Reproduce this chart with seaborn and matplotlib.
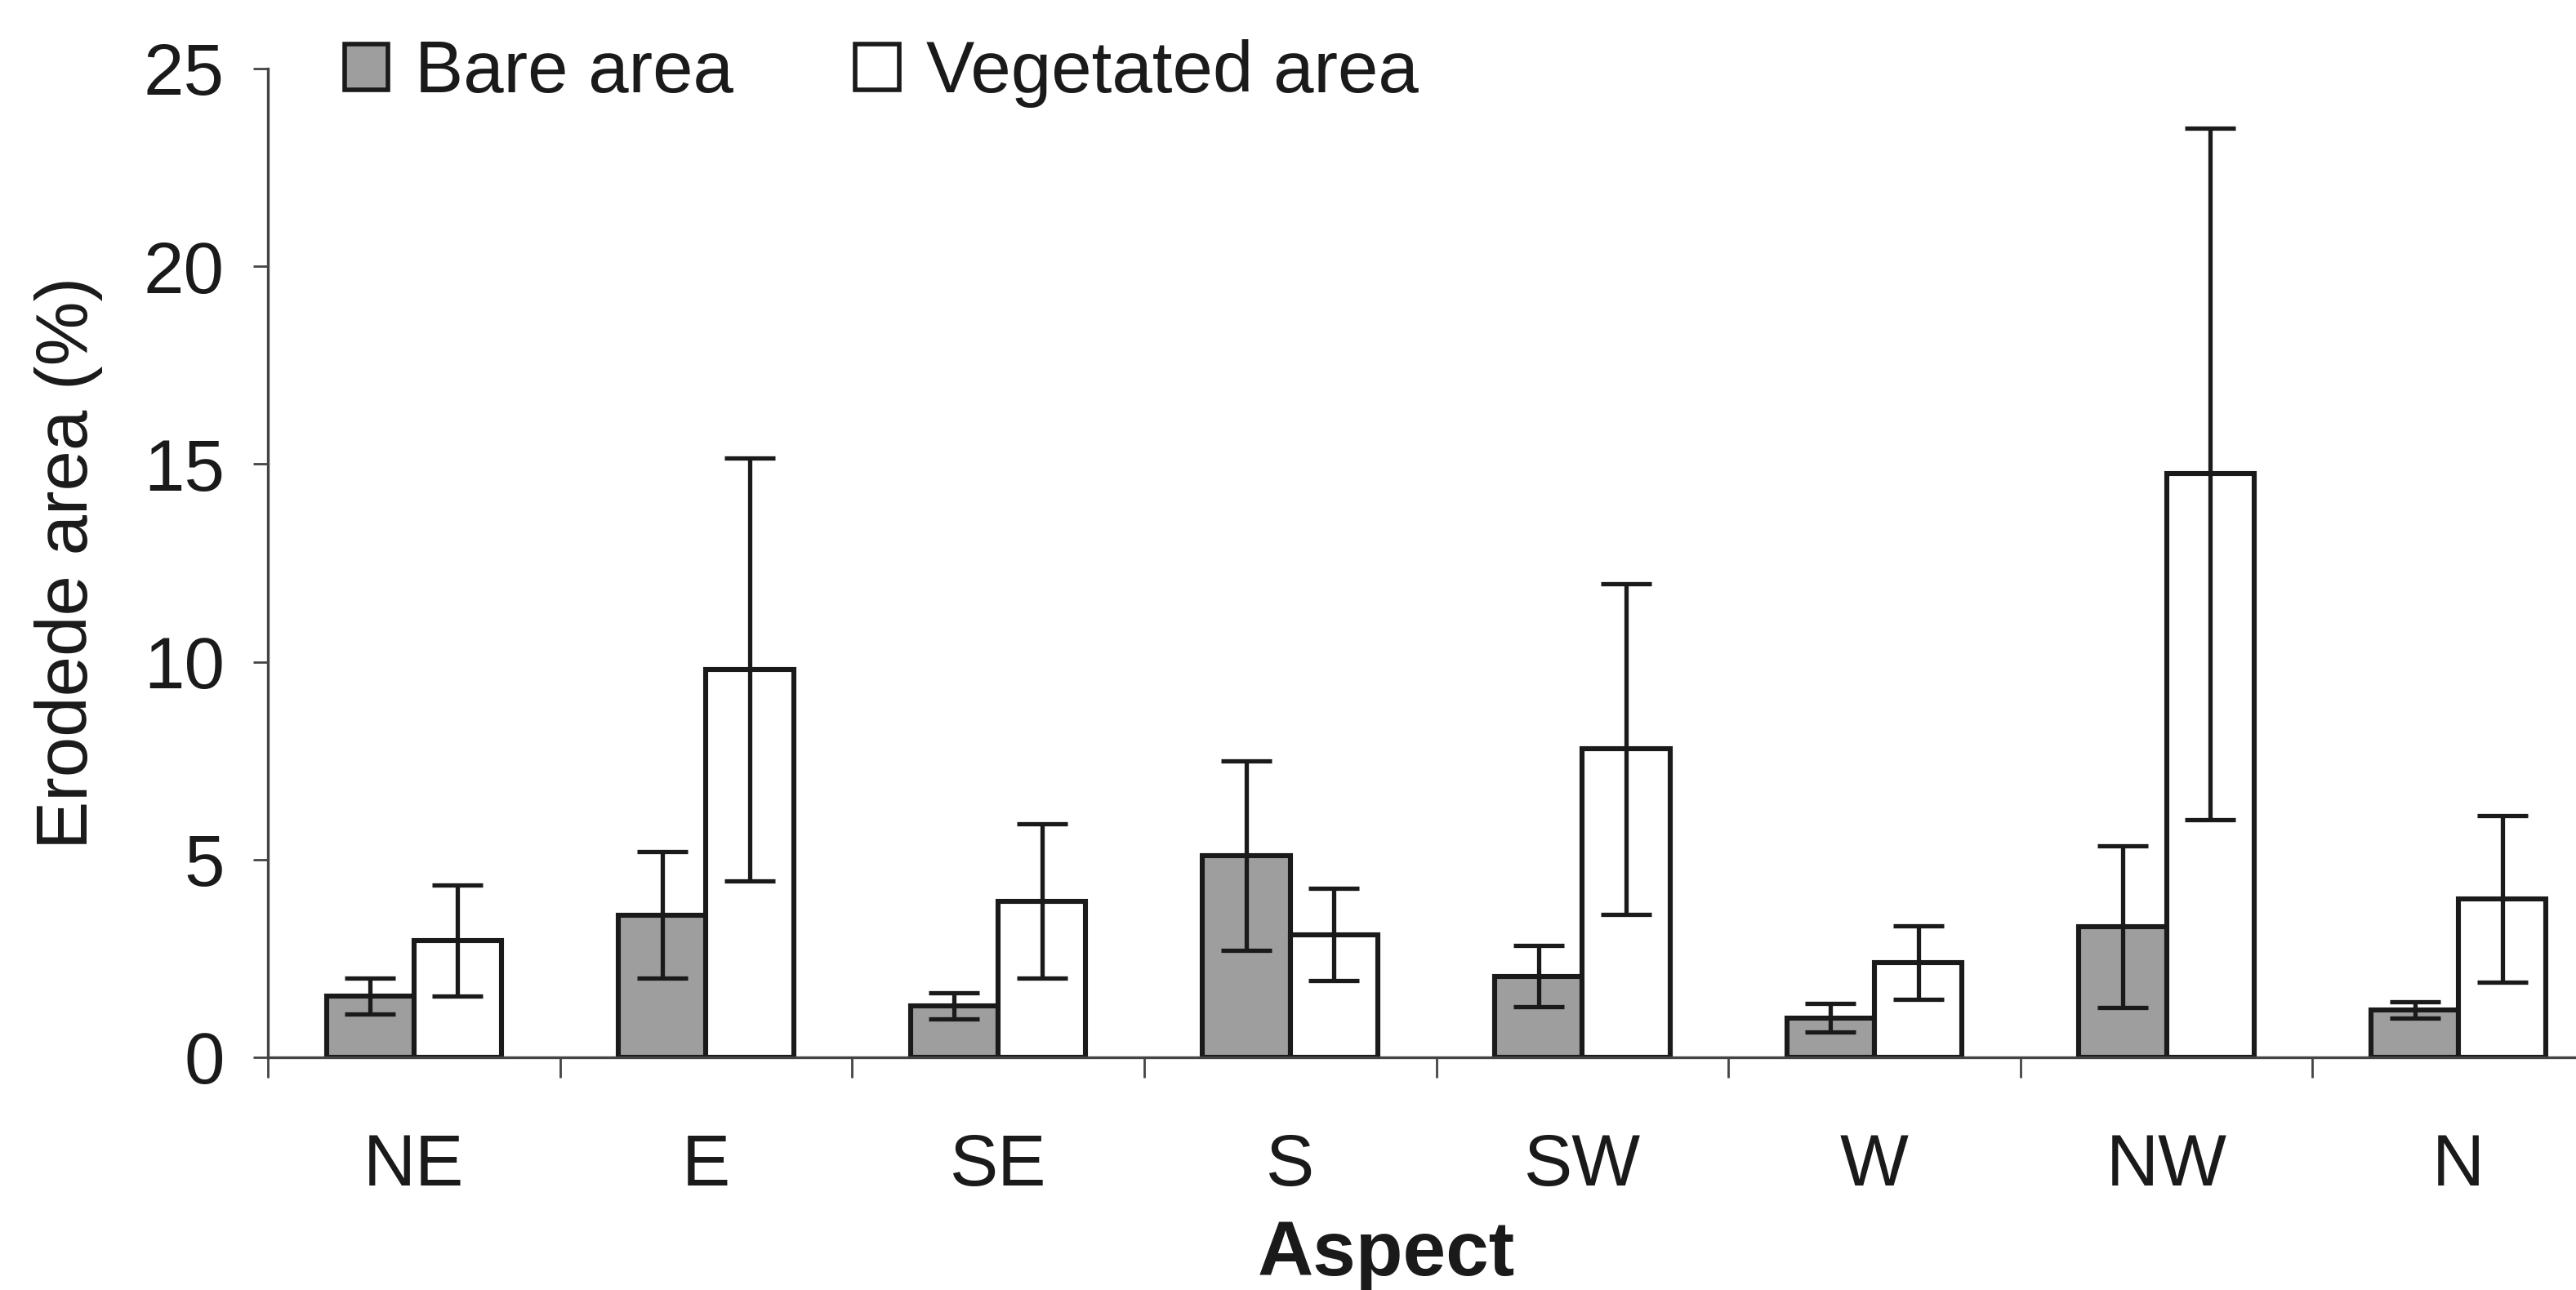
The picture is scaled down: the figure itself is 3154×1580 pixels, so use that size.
import numpy as np
import pandas as pd
import matplotlib
matplotlib.use("Agg")
import matplotlib.pyplot as plt
from matplotlib.patches import Patch
import seaborn as sns

# Eroded area by slope aspect, mean and error for bare and vegetated ground
aspects = ["NE", "E", "SE", "S", "SW", "W", "NW", "N"]
series_names = ["Bare area", "Vegetated area"]
bare_mean = [1.55, 3.6, 1.3, 5.1, 2.05, 1.0, 3.3, 1.2]
bare_err = [0.45, 1.6, 0.33, 2.4, 0.77, 0.36, 2.05, 0.2]
veg_mean = [2.95, 9.8, 3.95, 3.1, 7.8, 2.4, 14.75, 4.0]
veg_err = [1.4, 5.35, 1.95, 1.17, 4.18, 0.93, 8.74, 2.1]
y_ticks = [0, 5, 10, 15, 20, 25]

sns.set_theme(style="ticks")
plt.rcParams["font.family"] = ["Liberation Sans", "DejaVu Sans"]
plt.rcParams["hatch.linewidth"] = 0.8

ink = "#1a1a1a"
bar_colors = ["#9e9e9e", "#ffffff"]
stipple = "#7a7a7a"

df = pd.DataFrame({
    "Aspect": aspects * 2,
    "value": bare_mean + veg_mean,
    "Area": [series_names[0]] * len(aspects) + [series_names[1]] * len(aspects),
})

fig_w, fig_h = 3154, 1580
fig = plt.figure(figsize=(fig_w / 200, fig_h / 200), dpi=200)
# the plotting area runs a little past the right edge of the figure, so the last category is cut
ax_left, ax_bottom, ax_width, ax_height = 0.1040, 0.1804, 0.9071, 0.7665
ax = fig.add_axes([ax_left, ax_bottom, ax_width, ax_height])

sns.barplot(data=df, x="Aspect", y="value", hue="Area", order=aspects,
            hue_order=series_names, palette=bar_colors, width=0.6, gap=0,
            errorbar=None, edgecolor=ink, linewidth=2.2, saturation=1,
            legend=False, ax=ax)


def add_stipple(patch):
    # fine grey cross-hatch on the bare-ground bars, only where hatch colour can be set apart
    try:
        patch.set_hatchcolor(stipple)
    except AttributeError:
        return
    patch.set_hatch("xxxx")


for p in ax.containers[0]:
    add_stipple(p)

for container, means, errs in zip(ax.containers, [bare_mean, veg_mean], [bare_err, veg_err]):
    xs = [p.get_x() + p.get_width() / 2 for p in container]
    ax.errorbar(xs, means, yerr=errs, fmt="none", ecolor=ink, elinewidth=1.9,
                capsize=11, capthick=1.9, zorder=5)

ax.set_xlim(-0.5, len(aspects) - 0.5)
ax.set_ylim(0, 25)
ax.set_yticks(y_ticks)
ax.set_xticks(range(len(aspects)))
ax.set_xticklabels(aspects)
ax.set_xticks(np.arange(-0.5, len(aspects), 1.0), minor=True)

for s in ["top", "right"]:
    ax.spines[s].set_visible(False)
for s in ["left", "bottom"]:
    ax.spines[s].set_color("#444444")
    ax.spines[s].set_linewidth(1.2)

ax.tick_params(axis="x", which="major", length=0, pad=33, labelsize=32, labelcolor=ink)
ax.tick_params(axis="x", which="minor", length=9, width=1.0, color="#444444", direction="out")
ax.tick_params(axis="y", which="major", length=6.5, width=1.0, color="#444444",
               direction="out", pad=12.6, labelsize=32, labelcolor=ink)

# axis title sits under the tick labels, centred a little left of the plotting area's middle
ax.set_xlabel("Aspect", fontsize=34, fontweight="bold", color=ink)
ax.xaxis.label.set_verticalalignment("top")
ax.xaxis.set_label_coords((1697 - ax_left * fig_w) / (ax_width * fig_w),
                          -(1493 - (1 - ax_bottom) * fig_h) / (ax_height * fig_h))
ax.set_ylabel("Erodede area (%)", fontsize=32, color=ink, labelpad=18)

legend_handles = [Patch(facecolor=c, edgecolor=ink, linewidth=2.0) for c in bar_colors]
add_stipple(legend_handles[0])
fig.legend(legend_handles, series_names, loc="center left", bbox_to_anchor=(0.1338, 0.943),
           ncol=2, frameon=False, fontsize=32, handlelength=0.6, handleheight=0.6,
           handletextpad=0.37, columnspacing=1.68, borderpad=0, borderaxespad=0,
           labelcolor=ink)

fig.savefig("out.png", dpi=200, facecolor="white")
